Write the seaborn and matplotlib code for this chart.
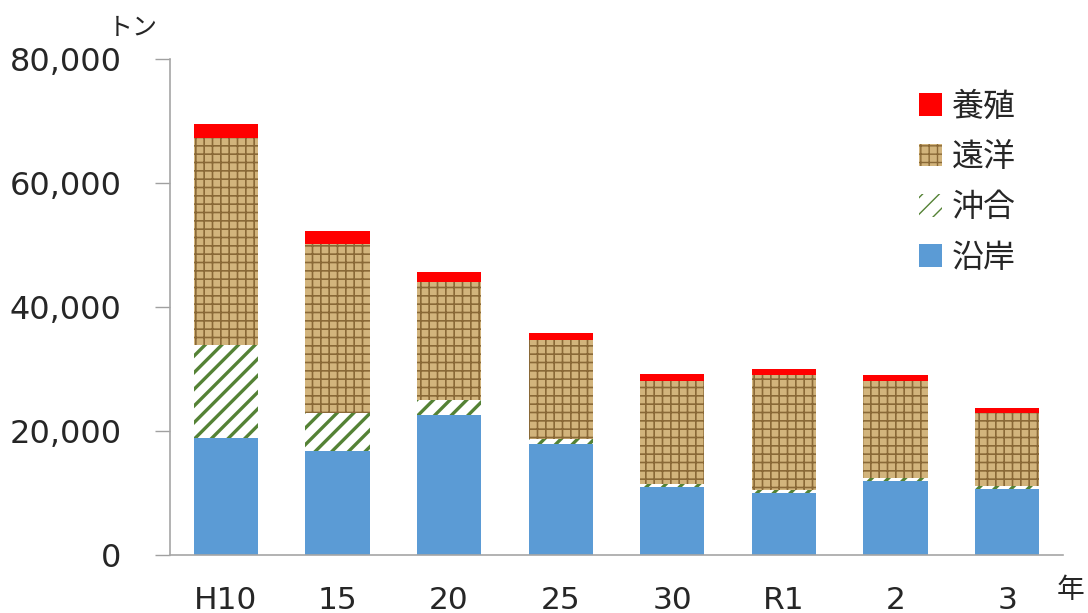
import matplotlib
matplotlib.use("Agg")
import matplotlib.pyplot as plt
import seaborn as sns
import pandas as pd
import numpy as np
from matplotlib.patches import Patch

# ---- data (トン) ----
years = ["H10", "15", "20", "25", "30", "R1", "2", "3"]
engan = [18900, 16800, 22600, 17900, 11000, 10000, 11900, 10600]     # 沿岸
okiai = [15000, 6100, 2400, 800, 450, 500, 500, 500]                 # 沖合
enyo = [33400, 27300, 19100, 15900, 16650, 18500, 15700, 11750]      # 遠洋
yoshoku = [2200, 2100, 1500, 1200, 1100, 1000, 900, 850]             # 養殖
series_names = ["沿岸", "沖合", "遠洋", "養殖"]
yticks = [0, 20000, 40000, 60000, 80000]

sns.set_theme(style="white")
plt.rcParams['font.family'] = ['DejaVu Sans', 'Noto Sans CJK JP']

fig = plt.figure(figsize=(10.88, 6.13), dpi=100)
ax = fig.add_axes([170/1088, 1-555/613, (1063-170)/1088, (555-59)/613])

c1 = np.array(engan, dtype=float)
c2 = c1 + np.array(okiai)
c3 = c2 + np.array(enyo)
c4 = c3 + np.array(yoshoku)

styles = {
    "養殖": dict(face="#FF0000", hatch=None, hcolor="#FF0000", hlw=1.0),
    "遠洋": dict(face="#D2B47C", hatch="++", hcolor="#8A6937", hlw=1.2),
    "沖合": dict(face="#FFFFFF", hatch="//", hcolor="#548235", hlw=2.4),
    "沿岸": dict(face="#5B9BD5", hatch=None, hcolor="#5B9BD5", hlw=1.0),
}

# draw cumulative tops from largest to smallest so each layer overlays the previous
layers = [("養殖", c4), ("遠洋", c3), ("沖合", c2), ("沿岸", c1)]
for name, vals in layers:
    st = styles[name]
    df = pd.DataFrame({"year": years, "value": vals})
    n_before = len(ax.patches)
    with plt.rc_context({"hatch.linewidth": st["hlw"], "hatch.color": st["hcolor"]}):
        sns.barplot(data=df, x="year", y="value", order=years, color=st["face"],
                    width=0.575, saturation=1, ax=ax, errorbar=None,
                    edgecolor=st["hcolor"], linewidth=0)
        for p in ax.patches[n_before:]:
            p.set_facecolor(st["face"])
            p.set_edgecolor(st["hcolor"])
            p.set_linewidth(0)
            if st["hatch"]:
                p.set_hatch(st["hatch"])
                if hasattr(p, "set_hatch_linewidth"):
                    p.set_hatch_linewidth(st["hlw"])

ax.set_xlim(-0.5, len(years) - 0.5)
ax.set_ylim(0, 80000)
ax.set_yticks(yticks)
ax.set_yticklabels([f"{v:,}" for v in yticks], fontsize=23)
ax.set_xlabel("")
ax.set_ylabel("")
ax.tick_params(axis="x", length=0, pad=22, labelsize=22.5)
ax.tick_params(axis="y", length=11, width=1, color="#A0A0A0", direction="out", pad=24, left=True)

for s in ["top", "right"]:
    ax.spines[s].set_visible(False)
for s in ["left", "bottom"]:
    ax.spines[s].set_color("#A6A6A6")
    ax.spines[s].set_linewidth(1.2)
ax.grid(False)

fig.text(108/1088, 1-28/613, "トン", fontsize=18, ha="left", va="center")
fig.text(1071/1088, 1-590/613, "年", fontsize=20, ha="center", va="center")

handles = []
for name in ["養殖", "遠洋", "沖合", "沿岸"]:
    st = styles[name]
    h = Patch(facecolor=st["face"], edgecolor=st["hcolor"], linewidth=0,
              hatch=st["hatch"])
    if st["hatch"] and hasattr(h, "set_hatch_linewidth"):
        h.set_hatch_linewidth(st["hlw"])
    handles.append(h)
leg = ax.legend(handles=handles, labels=["養殖", "遠洋", "沖合", "沿岸"],
                loc="upper left", bbox_to_anchor=(919/1088, 1-92/613),
                bbox_transform=fig.transFigure, frameon=False, fontsize=23,
                handlelength=0.72, handleheight=0.72, handletextpad=0.3,
                labelspacing=0.6, borderpad=0, borderaxespad=0)

fig.savefig("out.png", dpi=100)
